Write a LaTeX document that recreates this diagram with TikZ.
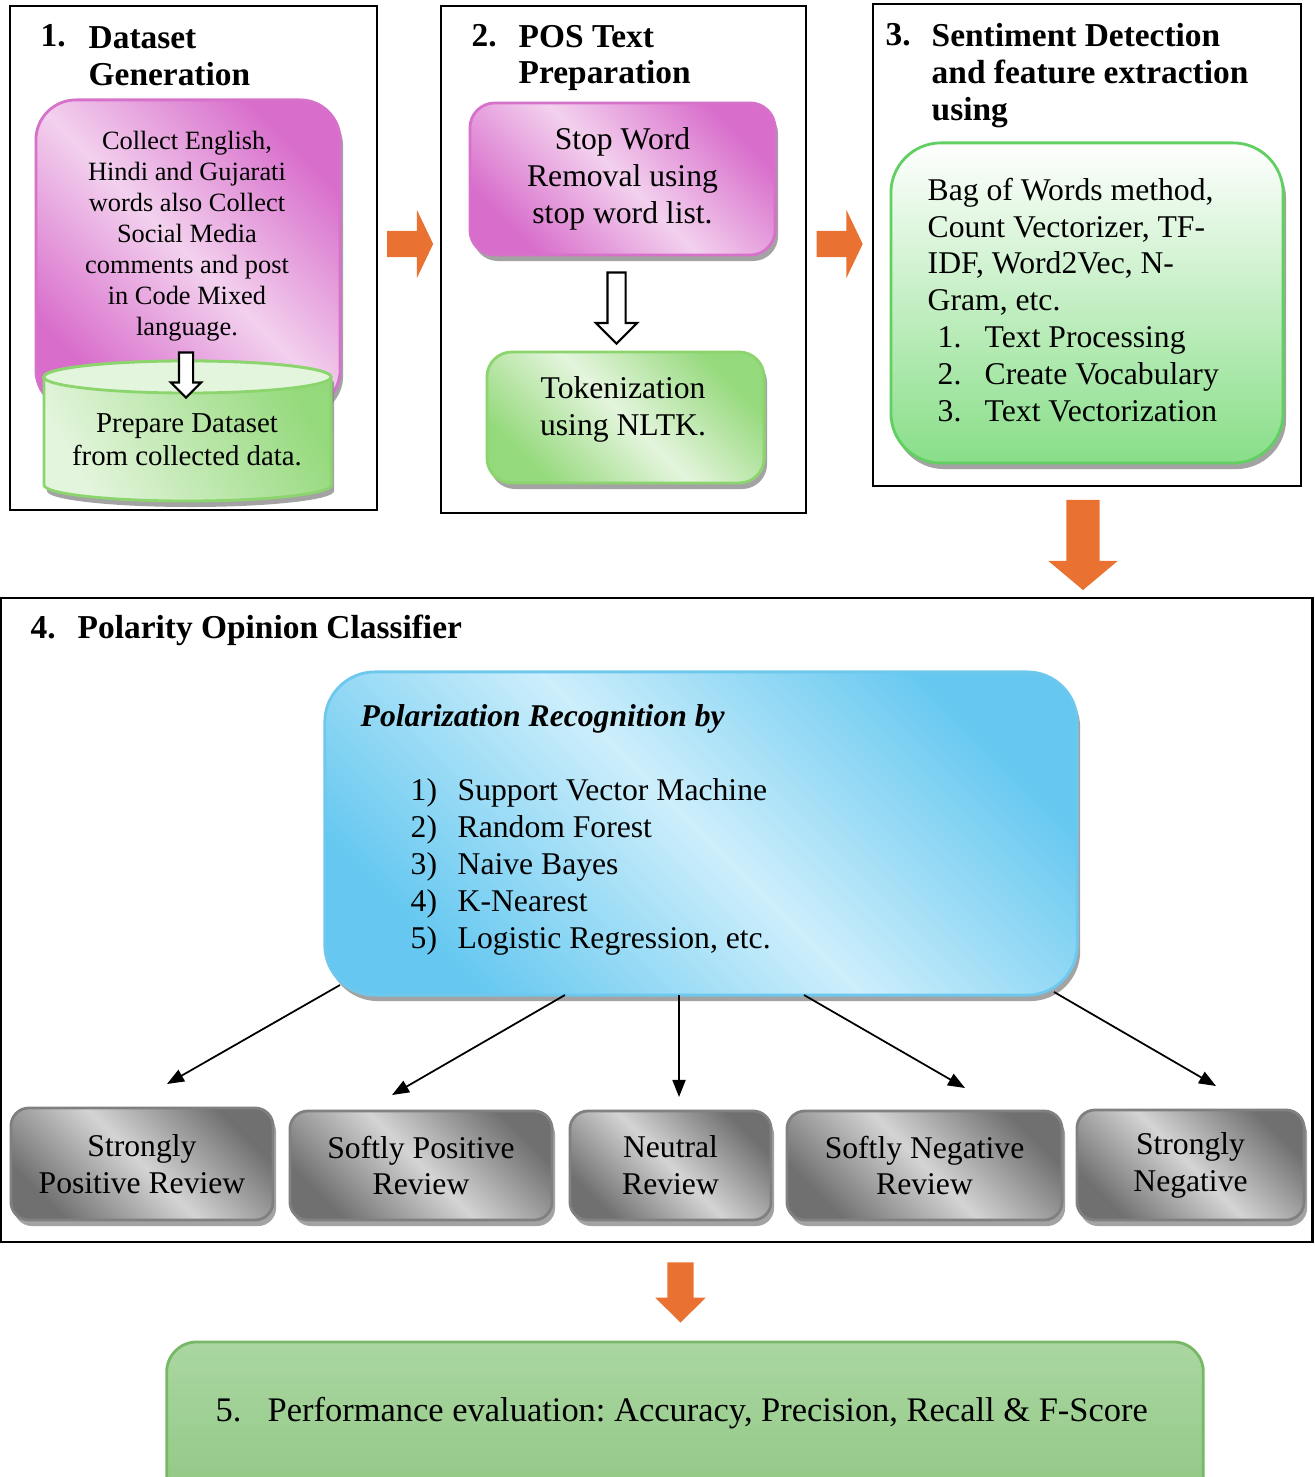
\documentclass[tikz,border=0pt]{standalone}
\usepackage{fontspec}
\setmainfont{Liberation Serif}
\frenchspacing
\usetikzlibrary{shapes.arrows,shadows,arrows.meta}
\definecolor{pinkdark}{HTML}{D86DCB}
\definecolor{pinklight}{HTML}{F3D1EE}
\definecolor{pinkline}{HTML}{D772CA}
\definecolor{greendark}{HTML}{94D97B}
\definecolor{greenlight}{HTML}{E4F5DD}
\definecolor{greenline}{HTML}{8CD56E}
\definecolor{leafbot}{HTML}{88DE88}
\definecolor{leafline}{HTML}{62CF62}
\definecolor{bluedark}{HTML}{66C8F0}
\definecolor{bluelight}{HTML}{CDEEFB}
\definecolor{blueline}{HTML}{6EC8EE}
\definecolor{greydark}{HTML}{707070}
\definecolor{greylight}{HTML}{D4D4D4}
\definecolor{greyline}{HTML}{808080}
\definecolor{evaltop}{HTML}{AAD7A1}
\definecolor{evalbot}{HTML}{8DC47F}
\definecolor{evalline}{HTML}{77B866}
\definecolor{flowarrow}{HTML}{E97132}

\begin{document}
\begin{tikzpicture}[x=0.01cm, y=-0.01cm,
  stagebox/.style={draw=black, line width=0.7pt, rectangle, inner sep=0pt},
  head/.style={font=\fontsize{9.5}{10.5}\selectfont\bfseries, align=left, inner sep=0pt},
  txtsmall/.style={font=\fontsize{7.5}{8.8}\selectfont, align=center, inner sep=0pt},
  txtmid/.style={font=\fontsize{9}{10.5}\selectfont, align=center, inner sep=0pt},
  boxshadow/.style={drop shadow={shadow xshift=0.3mm, shadow yshift=-0.6mm, fill=black!45, opacity=0.8}},
  pinkbox/.style={draw=pinkline, line width=0.8pt, rounded corners=#1, left color=pinkdark, right color=pinkdark, middle color=pinklight, shading angle=135, boxshadow},
  greenbox/.style={draw=greenline, line width=0.8pt, rounded corners=#1, left color=greendark, right color=greendark, middle color=greenlight, shading angle=135, boxshadow},
  leafbox/.style={draw=leafline, line width=0.8pt, rounded corners=0.5cm, top color=white, bottom color=leafbot, boxshadow},
  bluebox/.style={draw=blueline, line width=0.8pt, rounded corners=0.5cm, left color=bluedark, right color=bluedark, middle color=bluelight, shading angle=135, boxshadow},
  greybox/.style={draw=greyline, line width=0.8pt, rounded corners=0.18cm, left color=greydark, right color=greydark, middle color=greylight, shading angle=135, boxshadow, txtmid},
  evalbox/.style={draw=evalline, line width=0.8pt, rounded corners=0.3cm, top color=evaltop, bottom color=evalbot},
  flow/.style={single arrow, fill=flowarrow, draw=none},
  hollow/.style={single arrow, fill=white, draw=black, line width=0.6pt},
  conn/.style={-{Triangle[length=0.17cm,width=0.13cm]}, line width=0.5pt}]
\useasboundingbox (0,0) rectangle (1314,1477);

% stage frames
\node[stagebox, minimum width=3.67cm, minimum height=5.04cm] (s1) at (193.5,258) {};
\node[stagebox, minimum width=3.65cm, minimum height=5.07cm] (s2) at (623.5,259.5) {};
\node[stagebox, minimum width=4.28cm, minimum height=4.82cm] (s3) at (1087,245) {};
\node[stagebox, minimum width=13.11cm, minimum height=6.44cm] (s4) at (656.5,920) {};

% headings
\node[head, anchor=base west] (n1) at (40,47) {1.};
\node[head, anchor=west] (h1) at (88,56) {Dataset\\Generation};
\node[head, anchor=base west] (n2) at (471,47) {2.};
\node[head, anchor=west] (h2) at (518,58) {POS Text\\Preparation};
\node[head, anchor=base west] (n3) at (885,46) {3.};
\node[head, anchor=west] (h3) at (931,76) {Sentiment Detection\\and feature extraction\\using};
\node[head, anchor=base west] (n4) at (30,639) {4.};
\node[head, anchor=base west] (h4) at (77,639) {Polarity Opinion Classifier};

% stage 1
\node[pinkbox=0.4cm, minimum width=3.04cm, minimum height=3.1cm] (p1) at (188,255) {};
\node[txtsmall] (t1) at (187,236) {Collect English,\\Hindi and Gujarati\\words also Collect\\Social Media\\comments and post\\in Code Mixed\\language.};
\path[left color=greenlight, right color=greendark, shading angle=120, draw=greenline, line width=0.8pt, boxshadow]
  (44,377) -- (44,485) arc[start angle=180, end angle=360, x radius=1.435cm, y radius=0.16cm]
  -- (331,377) arc[start angle=0, end angle=180, x radius=1.435cm, y radius=0.16cm] -- cycle;
\draw[greenline, line width=0.8pt, fill=greenlight] (187.5,377) ellipse[x radius=1.435cm, y radius=0.16cm];
\node[txtsmall, font=\fontsize{8.2}{9.4}\selectfont] (t1b) at (187,440) {Prepare Dataset\\from collected data.};
\node[hollow, shape border rotate=270, inner sep=0.06cm, minimum height=0.45cm, single arrow head extend=0.08cm] (w1) at (186,371.5) {};

% stage 2
\node[pinkbox=0.25cm, minimum width=3.05cm, minimum height=1.52cm, txtmid] (p2) at (622.5,179) {Stop Word\\Removal using\\stop word list.};
\node[hollow, shape border rotate=270, inner sep=0.08cm, minimum height=0.71cm, single arrow head extend=0.115cm] (w2) at (616.5,303.5) {};
\node[greenbox=0.25cm, minimum width=2.77cm, minimum height=1.31cm] (g2) at (625.5,417.5) {};
\node[txtmid] (t2) at (623,409) {Tokenization\\using NLTK.};

% stage 3
\node[leafbox, minimum width=3.92cm, minimum height=3.2cm] (g3) at (1087,303) {};
\node[txtmid, align=left, anchor=west] (t3) at (927,300) {Bag of Words method,\\Count Vectorizer, TF-\\IDF, Word2Vec, N-\\Gram, etc.\\
  \hspace*{0.1cm}\makebox[0.47cm][l]{1.}Text Processing\\
  \hspace*{0.1cm}\makebox[0.47cm][l]{2.}Create Vocabulary\\
  \hspace*{0.1cm}\makebox[0.47cm][l]{3.}Text Vectorization};

% stage 4
\node[bluebox, minimum width=7.52cm, minimum height=3.23cm] (b4) at (701,833.5) {};
\node[txtmid, font=\fontsize{9}{10.5}\selectfont\bfseries\itshape, anchor=base west] (bt) at (360,727) {Polarization Recognition by};
\node[txtmid, align=left, anchor=west] (bl) at (410,867) {\makebox[0.47cm][l]{1)}Support Vector Machine\\
  \makebox[0.47cm][l]{2)}Random Forest\\
  \makebox[0.47cm][l]{3)}Naive Bayes\\
  \makebox[0.47cm][l]{4)}K-Nearest\\
  \makebox[0.47cm][l]{5)}Logistic Regression, etc.};

\node[greybox, minimum width=2.62cm, minimum height=1.12cm] (r1) at (142,1164) {Strongly\\Positive Review};
\node[greybox, minimum width=2.62cm, minimum height=1.09cm] (r2) at (421,1165.5) {Softly Positive\\Review};
\node[greybox, minimum width=2.01cm, minimum height=1.09cm] (r3) at (670.5,1165.5) {Neutral\\Review};
\node[greybox, minimum width=2.75cm, minimum height=1.09cm] (r4) at (924.5,1165.5) {Softly Negative\\Review};
\node[greybox, minimum width=2.27cm, minimum height=1.10cm] (r5) at (1190.5,1165) {Strongly\\Negative};

\coordinate (o1) at (340,985);  \coordinate (e1) at (167,1084);
\coordinate (o2) at (565,995);  \coordinate (e2) at (392,1095);
\coordinate (o3) at (679,995);  \coordinate (e3) at (679,1097);
\coordinate (o4) at (804,995);  \coordinate (e4) at (965,1088);
\coordinate (o5) at (1054,992); \coordinate (e5) at (1216,1086);
\foreach \i in {1,...,5} \draw[conn] (o\i) -- (e\i);

% stage 5
\node[evalbox, minimum width=10.36cm, minimum height=1.9cm] (ev) at (685,1437) {};
\node[inner sep=0pt, font=\fontsize{9.8}{11}\selectfont, anchor=west] (et) at (215,1413) {\makebox[0.52cm][l]{5.}Performance evaluation: Accuracy, Precision, Recall \& F-Score};

% flow arrows
\node[flow, inner sep=0.125cm, minimum height=0.46cm, single arrow head extend=0.21cm, single arrow tip angle=129] (f12) at (407,244) {};
\node[flow, inner sep=0.125cm, minimum height=0.46cm, single arrow head extend=0.21cm, single arrow tip angle=129] (f23) at (836.5,244) {};
\node[flow, shape border rotate=270, inner sep=0.16cm, minimum height=0.9cm, single arrow head extend=0.18cm, single arrow tip angle=100] (f34) at (1083,538) {};
\node[flow, shape border rotate=270, inner sep=0.125cm, minimum height=0.6cm, single arrow head extend=0.12cm, single arrow tip angle=91] (f45) at (680.5,1286) {};
\end{tikzpicture}
\end{document}
